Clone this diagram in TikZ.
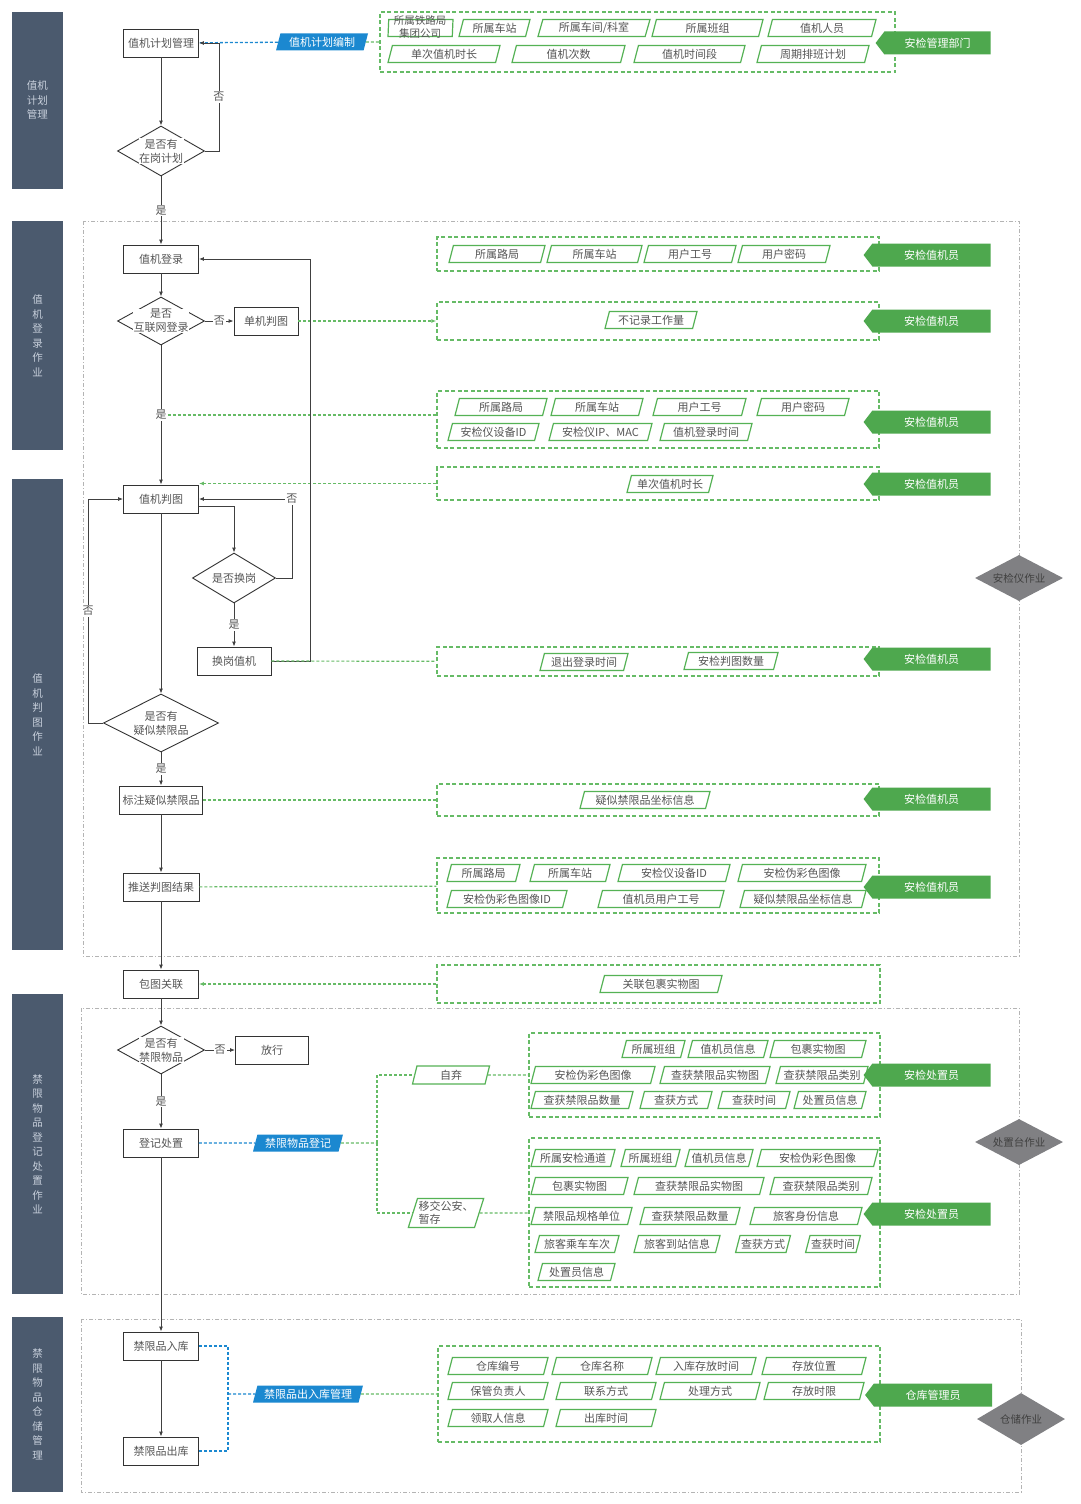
\documentclass[tikz,border=0pt]{standalone}
\usepackage{fontspec}
\setmainfont{Noto Sans CJK SC}
\usetikzlibrary{shapes.geometric,shapes.symbols,arrows.meta,positioning}

\definecolor{lanebg}{HTML}{4B5A6E}
\definecolor{lanetx}{HTML}{C8D0DC}
\definecolor{flowtx}{HTML}{555555}
\definecolor{grp}{HTML}{66BB66}
\definecolor{tagfill}{HTML}{4EA84E}
\definecolor{fldline}{HTML}{55B255}
\definecolor{bluetag}{HTML}{1B88D0}
\definecolor{opgray}{HTML}{808083}
\definecolor{framegray}{HTML}{B4B4B4}

\tikzset{
  lane/.style={fill=lanebg, text=lanetx, minimum width=51pt, inner sep=0pt, align=center,
    font=\fontsize{10.5}{14.5}\selectfont},
  frame/.style={draw=framegray, line width=0.8pt, dash pattern=on 4pt off 2pt on 1pt off 2pt},
  proc/.style={draw=black!80, fill=white, text=flowtx, minimum width=75pt, minimum height=28pt,
    inner sep=1pt, line width=0.9pt, font=\fontsize{11}{13}\selectfont},
  decide/.style={diamond, draw=black!80, fill=white, inner sep=0pt, line width=0.9pt},
  dtxt/.style={fill=white, text=flowtx, inner sep=0.5pt, align=center, font=\fontsize{11}{14}\selectfont},
  yn/.style={fill=white, text=flowtx, inner sep=1pt, font=\fontsize{11}{13}\selectfont},
  flowarr/.style={->, draw=black!75, line width=0.9pt},
  grpbox/.style={draw=grp, line width=1.4pt, dash pattern=on 4pt off 2.5pt, inner sep=0pt},
  fld/.style={trapezium, trapezium left angle=70, trapezium right angle=110, trapezium stretches body,
    draw=fldline, line width=1.2pt, fill=white, text=flowtx, minimum height=17pt, inner sep=1pt,
    font=\fontsize{11}{13}\selectfont},
  bluelbl/.style={trapezium, trapezium left angle=70, trapezium right angle=110, trapezium stretches body,
    fill=bluetag, text=white, minimum height=17pt, inner sep=1pt, font=\fontsize{11}{13}\selectfont},
  tag/.style={signal, signal to=west, signal pointer angle=105, fill=tagfill, text=white,
    minimum width=127pt, minimum height=23pt, inner sep=0pt, font=\fontsize{11}{13}\selectfont},
  optask/.style={diamond, aspect=1.9, fill=opgray, text=black!75, minimum width=88pt, minimum height=46pt,
    inner sep=0pt, font=\fontsize{10.5}{12}\selectfont},
  greenlink/.style={draw=grp, line width=1.2pt, dash pattern=on 3pt off 2pt},
  greenarr/.style={greenlink, ->},
  bluelink/.style={draw=bluetag, line width=1.3pt, dash pattern=on 3pt off 2pt},
}

\begin{document}
\begin{tikzpicture}[x=1pt, y=-1pt, >={Latex[length=5pt,width=4pt]}]

	% canvas
	\fill[white] (0,0) rectangle (1080,1504);
	\useasboundingbox (0,0) rectangle (1080,1504);

	% swim lanes
	\node[lane, minimum height=177pt] (lane1) at (37.5,100.5) {值机\\计划\\管理};
	\node[lane, minimum height=229pt] (lane2) at (37.5,335.5) {值\\机\\登\\录\\作\\业};
	\node[lane, minimum height=471pt] (lane3) at (37.5,714.5) {值\\机\\判\\图\\作\\业};
	\node[lane, minimum height=300pt] (lane4) at (37.5,1144) {禁\\限\\物\\品\\登\\记\\处\\置\\作\\业};
	\node[lane, minimum height=175pt] (lane5) at (37.5,1404.5) {禁\\限\\物\\品\\仓\\储\\管\\理};

	% dash-dot frames
	\draw[frame] (83,221) rectangle (1019,956);
	\draw[frame] (81,1008) rectangle (1019,1294);
	\draw[frame] (81,1319) rectangle (1021,1492);

	% operation diamonds on the right
	\node[optask] (o1) at (1019,578) {安检仪作业};
	\node[optask] (o2) at (1019,1142) {处置台作业};
	\node[optask, minimum height=52pt] (o3) at (1021,1419) {仓储作业};

	% data groups
	\node[grpbox, minimum width=515pt, minimum height=60pt] (G1) at (637.5,42) {};
	\node[grpbox, minimum width=442pt, minimum height=34pt] (G0) at (658,254) {};
	\node[grpbox, minimum width=442pt, minimum height=38pt] (G2) at (658,321) {};
	\node[grpbox, minimum width=442pt, minimum height=57pt] (G3) at (658,419.5) {};
	\node[grpbox, minimum width=442pt, minimum height=33pt] (G4) at (658,483.5) {};
	\node[grpbox, minimum width=442pt, minimum height=29pt] (G5) at (658,661.5) {};
	\node[grpbox, minimum width=442pt, minimum height=32pt] (G6) at (658,800) {};
	\node[grpbox, minimum width=442pt, minimum height=55pt] (G7) at (658,885.5) {};
	\node[grpbox, minimum width=443pt, minimum height=38pt] (G8) at (658.5,984) {};
	\node[grpbox, minimum width=351pt, minimum height=84pt] (G9) at (704.5,1075) {};
	\node[grpbox, minimum width=351pt, minimum height=149pt] (G10) at (704.5,1212.5) {};
	\node[grpbox, minimum width=442pt, minimum height=96pt] (G11) at (659,1394) {};

	% fields: plan
	\node[fld, minimum width=65pt] (f1-1) at (420.5,28) {};
	\node[text=flowtx, align=center, inner sep=0pt, font=\fontsize{10.5}{13}\selectfont] (f1-1t) at (420,27) {所属铁路局\\集团公司};
	\node[fld, minimum width=71pt] (f1-2) at (494.5,28) {所属车站};
	\node[fld, minimum width=112pt] (f1-3) at (594,28) {所属车间/科室};
	\node[fld, minimum width=111pt] (f1-4) at (707.5,28) {所属班组};
	\node[fld, minimum width=108pt] (f1-5) at (822,28) {值机人员};
	\node[fld, minimum width=112pt] (f1-6) at (444,54) {单次值机时长};
	\node[fld, minimum width=113pt] (f1-7) at (568.5,54) {值机次数};
	\node[fld, minimum width=111pt] (f1-8) at (689.5,54) {值机时间段};
	\node[fld, minimum width=112pt] (f1-9) at (813,54) {周期排班计划};

	% fields: login
	\node[fld, minimum width=96pt] (f0-1) at (497,254) {所属路局};
	\node[fld, minimum width=95pt] (f0-2) at (594.5,254) {所属车站};
	\node[fld, minimum width=92pt] (f0-3) at (690,254) {用户工号};
	\node[fld, minimum width=92pt] (f0-4) at (784,254) {用户密码};
	\node[fld, minimum width=92pt] (f2-1) at (651,320) {不记录工作量};
	\node[fld, minimum width=92pt] (f3-1) at (501,407) {所属路局};
	\node[fld, minimum width=92pt] (f3-2) at (597,407) {所属车站};
	\node[fld, minimum width=93pt] (f3-3) at (699.5,407) {用户工号};
	\node[fld, minimum width=92pt] (f3-4) at (803,407) {用户密码};
	\node[fld, minimum width=91pt] (f3-5) at (493.5,432) {安检仪设备ID};
	\node[fld, minimum width=103pt] (f3-6) at (600.5,432) {安检仪IP、MAC};
	\node[fld, minimum width=92pt] (f3-7) at (706,432) {值机登录时间};
	\node[fld, minimum width=86pt] (f4-1) at (670,484) {单次值机时长};

	% fields: judging
	\node[fld, minimum width=88pt] (f5-1) at (584,662) {退出登录时间};
	\node[fld, minimum width=94pt] (f5-2) at (731,661) {安检判图数量};
	\node[fld, minimum width=130pt] (f6-1) at (645,800) {疑似禁限品坐标信息};
	\node[fld, minimum width=73pt] (f7-1) at (483.5,873) {所属路局};
	\node[fld, minimum width=80pt] (f7-2) at (570,873) {所属车站};
	\node[fld, minimum width=112pt] (f7-3) at (674,873) {安检仪设备ID};
	\node[fld, minimum width=128pt] (f7-4) at (802,873) {安检伪彩色图像};
	\node[fld, minimum width=120pt] (f7-5) at (507,899) {安检伪彩色图像ID};
	\node[fld, minimum width=126pt] (f7-6) at (661,899) {值机员用户工号};
	\node[fld, minimum width=126pt] (f7-7) at (803,899) {疑似禁限品坐标信息};
	\node[fld, minimum width=122pt] (f8-1) at (661,984) {关联包裹实物图};

	% fields: disposal
	\node[fld, minimum width=63pt] (f9-1) at (653.5,1049) {所属班组};
	\node[fld, minimum width=80pt] (f9-2) at (728,1049) {值机员信息};
	\node[fld, minimum width=96pt] (f9-3) at (818,1049) {包裹实物图};
	\node[fld, minimum width=124pt] (f9-4) at (593,1075) {安检伪彩色图像};
	\node[fld, minimum width=110pt] (f9-5) at (715,1075) {查获禁限品实物图};
	\node[fld, minimum width=92pt] (f9-6) at (822,1075) {查获禁限品类别};
	\node[fld, minimum width=102pt] (f9-7) at (582,1100) {查获禁限品数量};
	\node[fld, minimum width=72pt] (f9-8) at (676,1100) {查获方式};
	\node[fld, minimum width=72pt] (f9-9) at (754,1100) {查获时间};
	\node[fld, minimum width=72pt] (f9-10) at (830,1100) {处置员信息};
	\node[fld, minimum width=84pt] (f10-1) at (573,1158) {所属安检通道};
	\node[fld, minimum width=59pt] (f10-2) at (650.5,1158) {所属班组};
	\node[fld, minimum width=68pt] (f10-3) at (719,1158) {值机员信息};
	\node[fld, minimum width=121pt] (f10-4) at (817.5,1158) {安检伪彩色图像};
	\node[fld, minimum width=97pt] (f10-5) at (579.5,1186) {包裹实物图};
	\node[fld, minimum width=130pt] (f10-6) at (699,1186) {查获禁限品实物图};
	\node[fld, minimum width=102pt] (f10-7) at (821,1186) {查获禁限品类别};
	\node[fld, minimum width=101pt] (f10-8) at (581.5,1216) {禁限品规格单位};
	\node[fld, minimum width=100pt] (f10-9) at (690,1216) {查获禁限品数量};
	\node[fld, minimum width=112pt] (f10-10) at (806,1216) {旅客身份信息};
	\node[fld, minimum width=84pt] (f10-11) at (577,1244) {旅客乘车车次};
	\node[fld, minimum width=86pt] (f10-12) at (677,1244) {旅客到站信息};
	\node[fld, minimum width=54pt] (f10-13) at (763,1244) {查获方式};
	\node[fld, minimum width=54pt] (f10-14) at (833,1244) {查获时间};
	\node[fld, minimum width=77pt] (f10-15) at (576.5,1272) {处置员信息};

	% fields: storage
	\node[fld, minimum width=100pt] (f11-1) at (498,1366) {仓库编号};
	\node[fld, minimum width=100pt] (f11-2) at (602,1366) {仓库名称};
	\node[fld, minimum width=100pt] (f11-3) at (706,1366) {入库存放时间};
	\node[fld, minimum width=104pt] (f11-4) at (814,1366) {存放位置};
	\node[fld, minimum width=100pt] (f11-5) at (498,1391) {保管负责人};
	\node[fld, minimum width=100pt] (f11-6) at (606,1391) {联系方式};
	\node[fld, minimum width=100pt] (f11-7) at (710,1391) {处理方式};
	\node[fld, minimum width=100pt] (f11-8) at (814,1391) {存放时限};
	\node[fld, minimum width=100pt] (f11-9) at (498,1418) {领取人信息};
	\node[fld, minimum width=100pt] (f11-10) at (606,1418) {出库时间};

	% role tags
	\node[tag, minimum width=115pt] (t1) at (937.5,43) {安检管理部门};
	\node[tag] (t2) at (931.5,255) {安检值机员};
	\node[tag] (t3) at (931.5,321) {安检值机员};
	\node[tag] (t4) at (931.5,422) {安检值机员};
	\node[tag] (t5) at (931.5,484) {安检值机员};
	\node[tag] (t6) at (931.5,659) {安检值机员};
	\node[tag] (t7) at (931.5,799) {安检值机员};
	\node[tag] (t8) at (931.5,887) {安检值机员};
	\node[tag] (t9) at (931.5,1075) {安检处置员};
	\node[tag] (t10) at (931.5,1214) {安检处置员};
	\node[tag] (t11) at (933,1395) {仓库管理员};

	% main flow
	\node[proc] (plan) at (161,43) {值机计划管理};
	\node[decide, minimum width=87pt, minimum height=50pt,
	  label={[dtxt]center:{是否有\\在岗计划}}] (onduty) at (161,151) {};
	\node[proc] (login) at (161,259) {值机登录};
	\node[decide, minimum width=87pt, minimum height=48pt,
	  label={[dtxt]center:{是否\\互联网登录}}] (online) at (161,321) {};
	\node[proc, minimum width=64pt] (single) at (266,321) {单机判图};
	\node[proc] (judge) at (161,499) {值机判图};
	\node[decide, minimum width=83pt, minimum height=50pt,
	  label={[dtxt]center:{是否换岗}}] (swapq) at (234,578) {};
	\node[proc, minimum width=74pt] (swap) at (234,661) {换岗值机};
	\node[decide, minimum width=115pt, minimum height=58pt,
	  label={[dtxt]center:{是否有\\疑似禁限品}}] (suspect) at (161,723) {};
	\node[proc, minimum width=83pt] (mark) at (161,800) {标注疑似禁限品};
	\node[proc, minimum width=76pt] (push) at (161,887) {推送判图结果};
	\node[proc] (bind) at (161,984) {包图关联};
	\node[decide, minimum width=87pt, minimum height=48pt,
	  label={[dtxt]center:{是否有\\禁限物品}}] (banned) at (161,1050) {};
	\node[proc, minimum width=73pt] (release) at (272,1050) {放行};
	\node[proc] (record) at (161,1143) {登记处置};
	\node[proc] (stockin) at (161,1346) {禁限品入库};
	\node[proc] (stockout) at (161,1451) {禁限品出库};

	% blue function labels
	\node[bluelbl, minimum width=92pt] (bplan) at (322,42) {值机计划编制};
	\node[bluelbl, minimum width=90pt] (breg) at (298,1143) {禁限物品登记};
	\node[bluelbl, minimum width=110pt] (bstore) at (308,1394) {禁限品出入库管理};

	% disposal choices
	\node[fld, minimum width=77pt, minimum height=18pt] (selfq) at (451,1075) {自弃};
	\node[fld, minimum width=73pt, minimum height=29pt, align=left,
	  font=\fontsize{11}{13}\selectfont] (police) at (446,1213) {移交公安、\\暂存};

	% flow connectors
	\draw[bluelink] (bplan) -- (plan);
	\draw[greenlink] (bplan) -- (G1);
	\draw[flowarr] (plan) -- (onduty);
	\draw[flowarr] (onduty.east) -- ++(14,0) |- node[yn, pos=0.25] {否} (plan.east);
	\draw[flowarr] (onduty) -- node[yn] {是} (login);
	\draw[flowarr] (login) -- (online);
	\draw[flowarr] (online) -- node[yn] {否} (single);
	\draw[greenarr] (single) -- (G2);
	\draw[flowarr] (online) -- node[yn] (yes2) {是} (judge);
	\draw[greenlink] (yes2.east) -- (yes2.east -| G3.west);
	\draw[greenarr] (G4.west) -- (G4.west -| judge.east);
	\draw[flowarr] ([yshift=-7pt]judge.east) -| (swapq.north);
	\draw[flowarr] (swapq.east) -- ++(16,0) |- node[yn, pos=0.5] {否} (judge.east);
	\draw[flowarr] (swapq) -- node[yn] {是} (swap);
	\draw[flowarr] (swap.east) -- ++(39,0) |- (login.east);
	\draw[greenlink] (swap) -- (G5);
	\draw[flowarr] (judge) -- (suspect);
	\draw[flowarr] (suspect.west) -- ++(-15,0) |- node[yn, pos=0.25] {否} (judge.west);
	\draw[flowarr] (suspect) -- node[yn] {是} (mark);
	\draw[greenlink] (mark) -- (G6);
	\draw[flowarr] (mark) -- (push);
	\draw[greenlink] (push) -- (G7);
	\draw[flowarr] (push) -- (bind);
	\draw[greenarr] (G8) -- (bind);
	\draw[flowarr] (bind) -- (banned);
	\draw[flowarr] (banned) -- node[yn] {否} (release);
	\draw[flowarr] (banned) -- node[yn] {是} (record);
	\draw[bluelink] (record) -- (breg);
	\coordinate (fork) at (377,1143);
	\draw[greenlink] (breg) -- (fork);
	\draw[greenlink] (fork) |- (selfq);
	\draw[greenlink] (fork) |- (police);
	\draw[greenlink] (selfq) -- (selfq -| G9.west);
	\draw[greenlink] (police) -- (police -| G10.west);
	\draw[flowarr] (record) -- (stockin);
	\draw[flowarr] (stockin) -- (stockout);
	\coordinate (bj) at (228,1394);
	\draw[bluelink] (stockin.east) -| (bj) |- (stockout.east);
	\draw[bluelink] (bj) -- (bstore);
	\draw[greenlink] (bstore) -- (G11);

\end{tikzpicture}
\end{document}
